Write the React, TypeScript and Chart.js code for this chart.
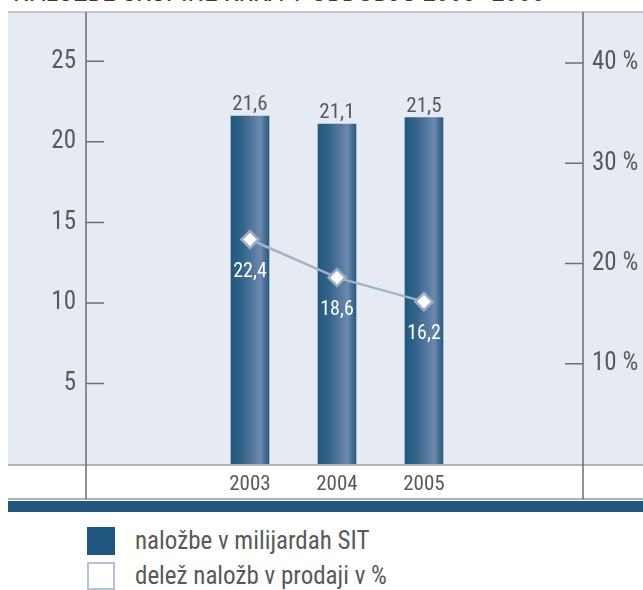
import React, { useEffect, useRef } from 'react';
import { Chart, registerables } from 'chart.js';

Chart.register(...registerables);

// ---- data ----
const years = [2003, 2004, 2005];
const investments = [21.6, 21.1, 21.5]; // naložbe v milijardah SIT
const shareOfSales = [22.4, 18.6, 16.2]; // delež naložb v prodaji v %
const leftTicks = [5, 10, 15, 20, 25];
const rightTicks = [10, 20, 30, 40];
const titleText = 'NALOŽBE SKUPINE KRKA V OBDOBJU 2003–2005';
const legendLabels = ['naložbe v milijardah SIT', 'delež naložb v prodaji v %'];

const FONT = "'Roboto Condensed', 'Liberation Sans Narrow', 'DejaVu Sans Condensed', sans-serif";
const TEXT = '#58595b';
const AXIS = '#6d6e71';
const DARK = '#1f5780';
const LINE = '#a3b3ca';

const fmt = (v: number) => v.toFixed(1).replace('.', ',');

const decor = {
  id: 'decor',
  beforeDraw(chart: any) {
    const { ctx, chartArea: a, scales } = chart;
    const W = chart.width;
    ctx.save();
    ctx.fillStyle = '#e6ebf3';
    ctx.fillRect(8, a.top - 1, W - 8, a.bottom - a.top + 1);
    ctx.strokeStyle = '#b6b8bb';
    ctx.lineWidth = 1.5;
    ctx.beginPath();
    ctx.moveTo(8, a.top - 1);
    ctx.lineTo(W, a.top - 1);
    ctx.stroke();
    ctx.strokeStyle = '#aeb1b5';
    ctx.lineWidth = 2;
    ctx.beginPath();
    ctx.moveTo(8, a.bottom + 1);
    ctx.lineTo(W, a.bottom + 1);
    ctx.stroke();
    ctx.beginPath();
    ctx.moveTo(8, a.bottom + 35);
    ctx.lineTo(W, a.bottom + 35);
    ctx.stroke();
    ctx.fillStyle = DARK;
    ctx.fillRect(8, a.bottom + 37, W - 8, 11);
    ctx.strokeStyle = AXIS;
    ctx.lineWidth = 1.5;
    ctx.beginPath();
    ctx.moveTo(a.left, a.top - 1);
    ctx.lineTo(a.left, a.bottom + 35);
    ctx.moveTo(a.right, a.top - 1);
    ctx.lineTo(a.right, a.bottom + 35);
    ctx.stroke();
    ctx.beginPath();
    leftTicks.forEach((v) => {
      const y = scales.y.getPixelForValue(v);
      ctx.moveTo(a.left, y);
      ctx.lineTo(a.left + 18, y);
    });
    rightTicks.forEach((v) => {
      const y = scales.y1.getPixelForValue(v);
      ctx.moveTo(a.right - 18, y);
      ctx.lineTo(a.right, y);
    });
    ctx.stroke();
    ctx.restore();
  },
  afterDatasetsDraw(chart: any) {
    const { ctx } = chart;
    ctx.save();
    ctx.textAlign = 'center';
    ctx.textBaseline = 'alphabetic';
    ctx.font = `21px ${FONT}`;
    ctx.fillStyle = TEXT;
    chart.getDatasetMeta(0).data.forEach((el: any, i: number) => {
      ctx.fillText(fmt(investments[i]), el.x, el.y - 6);
    });
    ctx.font = `20px ${FONT}`;
    ctx.fillStyle = '#ffffff';
    chart.getDatasetMeta(1).data.forEach((el: any, i: number) => {
      ctx.fillText(fmt(shareOfSales[i]), el.x, el.y + 37);
    });
    ctx.restore();
  },
};

function barGradient(context: any) {
  const chart = context.chart;
  if (!chart.chartArea || !chart.scales.x) return DARK;
  const i = context.dataIndex ?? 0;
  const x = chart.scales.x.getPixelForValue(years[i]);
  const g = chart.ctx.createLinearGradient(x - 19, 0, x + 19, 0);
  g.addColorStop(0, '#1f5a80');
  g.addColorStop(0.3, '#34638b');
  g.addColorStop(0.65, '#5d7fa4');
  g.addColorStop(0.78, '#6b8aad');
  g.addColorStop(0.88, '#4d7198');
  g.addColorStop(1, '#275b83');
  return g;
}

const noVPad = (s: any) => {
  s.paddingTop = 0;
  s.paddingBottom = 0;
};

export default function App() {
  const ref = useRef<HTMLCanvasElement>(null);

  useEffect(() => {
    if (!ref.current) return;
    const chart = new Chart(ref.current, {
      type: 'bar',
      data: {
        datasets: [
          {
            type: 'bar',
            label: legendLabels[0],
            data: years.map((yr, i) => ({ x: yr, y: investments[i] })),
            backgroundColor: barGradient,
            borderWidth: 0,
            barThickness: 38,
            xAxisID: 'x',
            yAxisID: 'y',
            order: 2,
          },
          {
            type: 'line',
            label: legendLabels[1],
            data: years.map((yr, i) => ({ x: yr, y: shareOfSales[i] })),
            borderColor: LINE,
            borderWidth: 2.5,
            pointStyle: 'rectRot',
            pointRadius: 8.5,
            pointBackgroundColor: '#ffffff',
            pointBorderColor: '#9dadc4',
            pointBorderWidth: 2.5,
            tension: 0,
            xAxisID: 'x',
            yAxisID: 'y1',
            order: 1,
          },
        ],
      } as any,
      options: {
        responsive: false,
        animation: false,
        layout: { padding: { top: 13, left: 0, right: 0, bottom: 0 } },
        plugins: {
          legend: { display: false },
          tooltip: { enabled: false },
        },
        scales: {
          x: {
            type: 'linear',
            offset: false,
            min: 2001.115,
            max: 2006.828,
            grid: { display: false, offset: false, drawTicks: false },
            border: { display: false },
            ticks: {
              color: TEXT,
              font: { family: FONT, size: 21 },
              padding: 8,
              callback: (v: any) => String(v),
            },
            afterBuildTicks: (s: any) => {
              s.ticks = years.map((v) => ({ value: v }));
            },
            afterFit: (s: any) => {
              s.height = 56;
            },
          },
          y: {
            position: 'left',
            min: 0,
            max: 28,
            grid: { display: false, drawTicks: false },
            border: { display: false },
            ticks: {
              color: TEXT,
              font: { family: FONT, size: 25 },
              padding: 10,
            },
            afterBuildTicks: (s: any) => {
              s.ticks = leftTicks.map((v) => ({ value: v }));
            },
            afterFit: (s: any) => {
              s.width = 86;
              noVPad(s);
            },
          },
          y1: {
            position: 'right',
            min: 0,
            max: 45,
            grid: { display: false, drawTicks: false },
            border: { display: false },
            ticks: {
              color: TEXT,
              font: { family: FONT, size: 25 },
              padding: 9,
              callback: (v: any) => `${v} %`,
            },
            afterBuildTicks: (s: any) => {
              s.ticks = rightTicks.map((v) => ({ value: v }));
            },
            afterFit: (s: any) => {
              s.width = 60;
              noVPad(s);
            },
          },
        },
      } as any,
      plugins: [decor],
    });
    return () => chart.destroy();
  }, []);

  const legendText: React.CSSProperties = {
    position: 'absolute',
    left: 135,
    fontFamily: FONT,
    fontSize: 25,
    lineHeight: '28px',
    color: TEXT,
    whiteSpace: 'nowrap',
  };

  return (
    <div style={{ position: 'absolute', left: 0, top: 0, width: 643, height: 590, overflow: 'hidden', background: '#fff' }}>
      <div
        style={{
          position: 'absolute',
          left: 13,
          top: -21,
          fontFamily: FONT,
          fontSize: 27,
          lineHeight: '27px',
          color: '#3a3a3c',
          whiteSpace: 'nowrap',
        }}
      >
        {titleText}
      </div>
      <canvas ref={ref} width={643} height={520} style={{ position: 'absolute', left: 0, top: 0 }} />
      <div style={{ position: 'absolute', left: 87, top: 527, width: 28, height: 28, background: DARK }} />
      <div style={{ ...legendText, top: 527 }}>{legendLabels[0]}</div>
      <div
        style={{
          position: 'absolute',
          left: 87,
          top: 562,
          width: 28,
          height: 28,
          boxSizing: 'border-box',
          border: '2px solid #b3c2d7',
          background: '#fff',
        }}
      />
      <div style={{ ...legendText, top: 562 }}>{legendLabels[1]}</div>
    </div>
  );
}
